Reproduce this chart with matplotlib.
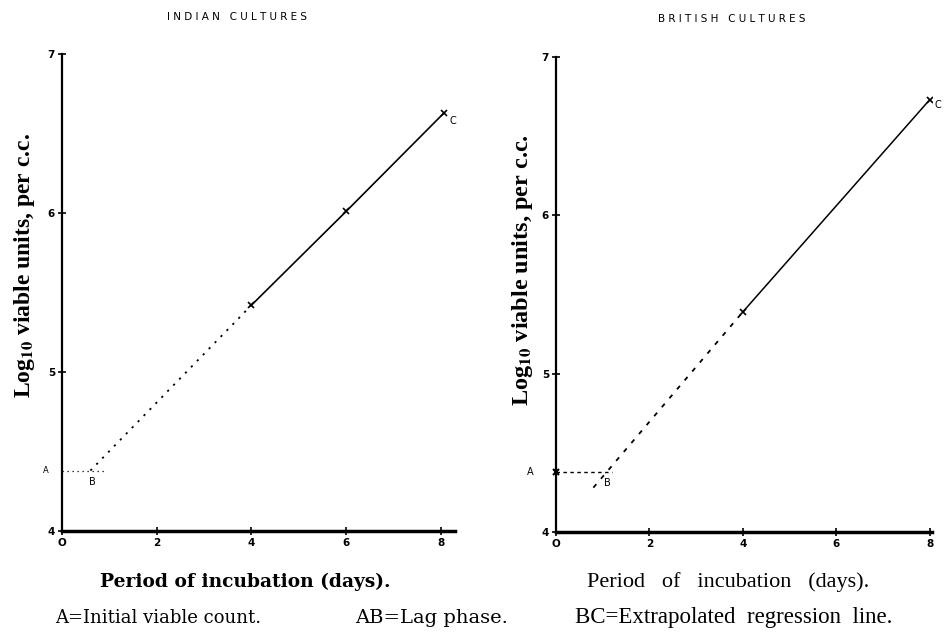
import numpy as np
import matplotlib.pyplot as plt

plt.rcParams['mathtext.fontset'] = 'stix'

# Indian cultures
ind_a = 4.38          # initial viable count (A)
ind_b_day = 0.6       # end of lag phase (B)
ind_lag_end = 0.95    # length of the horizontal dotted line
ind_days = [4, 6, 8.07]
ind_log = [5.42, 6.01, 6.63]

# British cultures
bri_a = 4.38
bri_b_day = 1.05
bri_lag_end = 1.2
bri_ext_start = (0.8, 4.28)
bri_days = [4, 8.0]
bri_log = [5.39, 6.73]

xticks = [0, 2, 4, 6, 8]
yticks = [4, 5, 6, 7]

fig = plt.figure(figsize=(9.46, 6.33), dpi=100)

def setup(ax, xmax, title, tx, ty):
    ax.set_xlim(0, xmax)
    ax.set_ylim(4, 7)
    for s in ['top', 'right']:
        ax.spines[s].set_visible(False)
    ax.spines['left'].set_linewidth(1.6)
    ax.spines['bottom'].set_linewidth(2.5)
    ax.set_xticks(xticks)
    ax.set_yticks(yticks)
    ax.set_xticklabels(['O', '2', '4', '6', '8'])
    ax.tick_params(direction='inout', length=6, width=1.2, labelsize=7.5, pad=2)
    for lab in ax.get_xticklabels() + ax.get_yticklabels():
        lab.set_fontweight('bold')
    fig.text(tx, ty, title, ha='center', va='center', fontsize=7.5)

# left panel
ax1 = fig.add_axes([62/946, 1-531/633, 393/946, 477/633])
setup(ax1, 8.3, 'I N D I A N   C U L T U R E S', 237/946, 1-17/633)
ax1.plot([0, ind_lag_end], [ind_a, ind_a], color='k', lw=0.9, ls=(0, (1, 3)))
ax1.plot([ind_b_day, ind_days[0]], [ind_a, ind_log[0]], color='k', lw=1.3, ls=(0, (1.2, 3.5)))
ax1.plot(ind_days, ind_log, color='k', lw=1.2, marker='x', ms=5, mew=1.2)
ax1.text(-0.35, ind_a, 'A', ha='center', va='center', fontsize=6)
ax1.text(ind_b_day + 0.05, ind_a - 0.04, 'B', ha='center', va='top', fontsize=7)
ax1.text(ind_days[-1] + 0.12, ind_log[-1] - 0.05, 'C', ha='left', va='center', fontsize=7)

# right panel
ax2 = fig.add_axes([556/946, 1-532/633, 376/946, 475/633])
setup(ax2, 8.05, 'B R I T I S H   C U L T U R E S', 732/946, 1-19/633)
ax2.plot([0], [bri_a], color='k', marker='x', ms=5, mew=1.5, clip_on=False)
ax2.plot([0, bri_lag_end], [bri_a, bri_a], color='k', lw=1.0, ls=(0, (2.5, 2.5)))
ax2.plot([bri_ext_start[0], bri_days[0]], [bri_ext_start[1], bri_log[0]], color='k', lw=1.3,
         ls=(0, (2.5, 4)))
ax2.plot(bri_days, bri_log, color='k', lw=1.1, marker='x', ms=5, mew=1.2)
ax2.text(-0.55, bri_a, 'A', ha='center', va='center', fontsize=7)
ax2.text(bri_b_day + 0.05, bri_a - 0.04, 'B', ha='center', va='top', fontsize=7)
ax2.text(bri_days[-1] + 0.1, bri_log[-1] - 0.03, 'C', ha='left', va='center', fontsize=7)

# axis labels
ylab = r'Log$_{\mathbf{10}}$ viable units, per c.c.'
fig.text(25/946, 1-265/633, ylab, rotation=90, ha='center', va='center',
         fontsize=17, fontweight='bold', family='Liberation Serif')
fig.text(522/946, 1-270/633, ylab, rotation=90, ha='center', va='center',
         fontsize=17.5, fontweight='bold', family='Liberation Serif')
fig.text(245/946, 1-582/633, 'Period of incubation (days).', ha='center', va='center',
         fontsize=13.4, fontweight='bold', family='DejaVu Serif')
fig.text(728/946, 1-582/633, 'Period   of   incubation   (days).', ha='center', va='center',
         fontsize=16, family='Liberation Serif')
fig.text(55/946, 1-618/633, 'A=Initial viable count.', ha='left', va='center',
         fontsize=13, family='DejaVu Serif')
fig.text(355/946, 1-618/633, 'AB=Lag phase.', ha='left', va='center',
         fontsize=14, family='DejaVu Serif')
fig.text(575/946, 1-618/633, 'BC=Extrapolated  regression  line.', ha='left', va='center',
         fontsize=16.5, family='Liberation Serif')

fig.savefig('out.png', dpi=100)
